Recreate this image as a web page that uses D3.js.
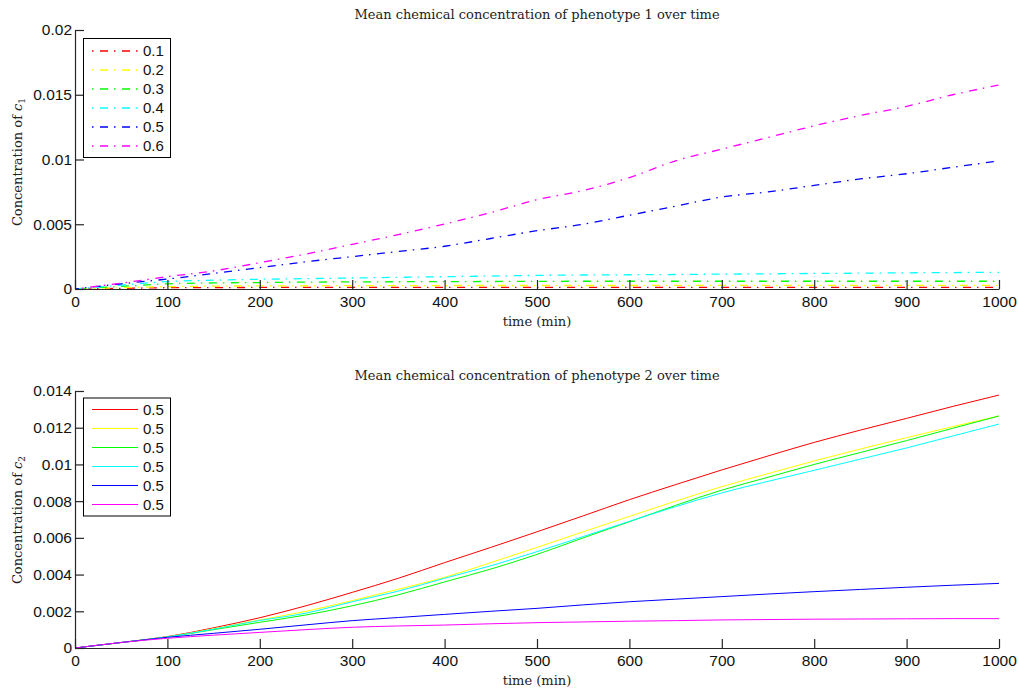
<!DOCTYPE html>
<html>
<head>
<meta charset="utf-8">
<script src="https://cdn.jsdelivr.net/npm/d3@7"></script>
<style>
  html, body { margin: 0; padding: 0; background: #fff; }
  svg { display: block; }
  .tick text { font-family: "Liberation Sans", Arial, sans-serif; font-size: 15.5px; fill: #111; }
  .title, .xlabel, .ylabel { font-family: "DejaVu Serif", "Liberation Serif", serif; fill: #222; }
</style>
</head>
<body>
<svg id="chart" width="1018" height="693"></svg>
<script>
// Sample times (min)
const time = [0, 50, 100, 150, 200, 250, 300, 350, 400, 450, 500, 550, 600, 650, 700, 750, 800, 850, 900, 950, 1000];

// Phenotype 1: mean concentration of c1, one series per parameter value
const p1Labels = ["0.1", "0.2", "0.3", "0.4", "0.5", "0.6"];
const p1_01 = [0, 0.00005, 0.0001, 0.00011, 0.00012, 0.00013, 0.00013, 0.00013, 0.00013, 0.00013, 0.00013, 0.00013, 0.00013, 0.00013, 0.00013, 0.00013, 0.00013, 0.00013, 0.00013, 0.00013, 0.00013];
const p1_02 = [0, 0.0001, 0.00018, 0.00022, 0.00024, 0.00025, 0.00026, 0.00026, 0.00027, 0.00027, 0.00027, 0.00027, 0.00027, 0.00028, 0.00028, 0.00028, 0.00028, 0.00028, 0.00028, 0.00028, 0.00028];
const p1_03 = [0, 0.0002, 0.0004, 0.00047, 0.0005, 0.00053, 0.00055, 0.00056, 0.00057, 0.00058, 0.00059, 0.0006, 0.0006, 0.0006, 0.0006, 0.0006, 0.0006, 0.0006, 0.0006, 0.0006, 0.0006];
const p1_04 = [0, 0.0003, 0.00057, 0.00068, 0.00075, 0.0008, 0.00085, 0.0009, 0.00095, 0.001, 0.00105, 0.00108, 0.0011, 0.00112, 0.00115, 0.00117, 0.0012, 0.00122, 0.00125, 0.00127, 0.00129];
const p1_05 = [0, 0.0004, 0.00077, 0.0012, 0.00165, 0.0021, 0.0025, 0.0029, 0.0033, 0.0039, 0.0045, 0.005, 0.0057, 0.0064, 0.0071, 0.0075, 0.008, 0.0085, 0.0089, 0.0094, 0.0099];
const p1_06 = [0, 0.00045, 0.00095, 0.0014, 0.00203, 0.0027, 0.00345, 0.0042, 0.00502, 0.0059, 0.0069, 0.0076, 0.0086, 0.0099, 0.0108, 0.0117, 0.0126, 0.0134, 0.0141, 0.015, 0.01575];

// Phenotype 2: mean concentration of c2
const p2Labels = ["0.5", "0.5", "0.5", "0.5", "0.5", "0.5"];
const p2_a = [0, 0.0003, 0.00062, 0.0011, 0.00165, 0.0023, 0.00303, 0.0038, 0.00465, 0.00548, 0.00633, 0.0072, 0.00808, 0.0089, 0.0097, 0.01046, 0.0112, 0.01187, 0.01251, 0.01316, 0.01378];
const p2_b = [0, 0.0003, 0.0006, 0.00105, 0.00153, 0.002, 0.00258, 0.0032, 0.00385, 0.00465, 0.00548, 0.00633, 0.00717, 0.008, 0.00879, 0.0095, 0.01019, 0.01084, 0.01146, 0.01206, 0.01264];
const p2_c = [0, 0.0003, 0.0006, 0.001, 0.0014, 0.0018, 0.0023, 0.0029, 0.0036, 0.0043, 0.0051, 0.006, 0.00688, 0.00777, 0.0086, 0.0093, 0.01, 0.01065, 0.0113, 0.01197, 0.01264];
const p2_d = [0, 0.0003, 0.0006, 0.00103, 0.0015, 0.0019, 0.00252, 0.0031, 0.0038, 0.00448, 0.00525, 0.00607, 0.0069, 0.0077, 0.00845, 0.00908, 0.00968, 0.01029, 0.0109, 0.01155, 0.0122];
const p2_e = [0, 0.0003, 0.00058, 0.0008, 0.00102, 0.00126, 0.00149, 0.00166, 0.00183, 0.002, 0.00216, 0.00235, 0.00252, 0.00266, 0.0028, 0.00294, 0.00307, 0.00319, 0.00331, 0.00342, 0.00352];
const p2_f = [0, 0.0003, 0.00053, 0.0007, 0.00085, 0.001, 0.00113, 0.0012, 0.00125, 0.00132, 0.00138, 0.00142, 0.00146, 0.00149, 0.00153, 0.00155, 0.00157, 0.00158, 0.00159, 0.0016, 0.0016];

// Axis ticks
const xTicks = [0, 100, 200, 300, 400, 500, 600, 700, 800, 900, 1000];
const y1Ticks = [0, 0.005, 0.01, 0.015, 0.02];
const y2Ticks = [0, 0.002, 0.004, 0.006, 0.008, 0.01, 0.012, 0.014];

const colors = ["#ff0000", "#ffff00", "#00ff00", "#00ffff", "#0000ff", "#ff00ff"];

const svg = d3.select("#chart");

function drawPanel(cfg) {
  const x = d3.scaleLinear().domain([0, 1000]).range([cfg.left, cfg.right]);
  const y = d3.scaleLinear().domain([0, cfg.yMax]).range([cfg.bottom, cfg.top]);
  const g = svg.append("g");

  const fmt = d => String(+d.toFixed(4));

  // data lines
  const line = d3.line().x((d, i) => x(time[i])).y(d => y(d)).curve(d3.curveMonotoneX);
  cfg.series.forEach((s, i) => {
    g.append("path")
      .datum(s)
      .attr("d", line)
      .attr("fill", "none")
      .attr("stroke", colors[i])
      .attr("stroke-width", cfg.dash ? 1.3 : 1)
      .attr("stroke-dasharray", cfg.dash || null)
      .attr("stroke-dashoffset", cfg.dash ? i * 3 : null);
  });

  // axes with inward ticks
  const xAxis = d3.axisBottom(x).tickValues(xTicks).tickFormat(fmt)
    .tickSizeInner(-9).tickSizeOuter(0).tickPadding(7);
  const yAxis = d3.axisLeft(y).tickValues(cfg.yTicks).tickFormat(fmt)
    .tickSizeInner(-9).tickSizeOuter(0).tickPadding(3);

  const gx = g.append("g").attr("transform", `translate(0,${cfg.bottom})`).call(xAxis);
  const gy = g.append("g").attr("transform", `translate(${cfg.left},0)`).call(yAxis);
  [gx, gy].forEach(a => {
    a.select(".domain").attr("stroke", "#262626").attr("stroke-width", 1.2);
    a.selectAll(".tick line").attr("stroke", "#262626").attr("stroke-width", 1.2);
    a.attr("font-family", null).attr("font-size", null);
  });

  // title and axis labels
  g.append("text").attr("class", "title")
    .attr("x", (cfg.left + cfg.right) / 2).attr("y", cfg.top - 11)
    .attr("text-anchor", "middle").attr("font-size", 13)
    .text(cfg.title);
  g.append("text").attr("class", "xlabel")
    .attr("x", (cfg.left + cfg.right) / 2).attr("y", cfg.bottom + 37)
    .attr("text-anchor", "middle").attr("font-size", 13)
    .text("time (min)");
  const yl = g.append("text").attr("class", "ylabel")
    .attr("transform", `translate(22,${cfg.yLabelY}) rotate(-90)`)
    .attr("text-anchor", "middle").attr("font-size", 13);
  yl.append("tspan").text("Concentration of ");
  yl.append("tspan").attr("font-style", "italic").text("c");
  yl.append("tspan").attr("font-size", 9).attr("dy", 3).text(cfg.sub);

  // legend
  const lg = g.append("g");
  lg.append("rect")
    .attr("x", 83.5).attr("y", cfg.legTop + 0.5)
    .attr("width", 87).attr("height", cfg.legH)
    .attr("fill", "#fff").attr("stroke", "#000").attr("stroke-width", 1);
  cfg.labels.forEach((lab, i) => {
    const yy = cfg.legFirst + i * 19;
    lg.append("line")
      .attr("x1", 92).attr("x2", 138).attr("y1", yy).attr("y2", yy)
      .attr("stroke", colors[i]).attr("stroke-width", cfg.dash ? 1.3 : 1)
      .attr("stroke-dasharray", cfg.dash || null);
    lg.append("text")
      .attr("x", 143).attr("y", yy).attr("dy", "0.36em")
      .attr("font-family", "'Liberation Sans', Arial, sans-serif")
      .attr("font-size", 15).attr("fill", "#111")
      .text(lab);
  });
}

drawPanel({
  left: 75, right: 999, top: 30, bottom: 289, yMax: 0.02, yTicks: y1Ticks,
  series: [p1_01, p1_02, p1_03, p1_04, p1_05, p1_06], labels: p1Labels,
  dash: "1.5,6.5,8,6",
  title: "Mean chemical concentration of phenotype 1 over time",
  sub: "1", yLabelY: 162, legTop: 38, legH: 119, legFirst: 51
});

drawPanel({
  left: 75, right: 999, top: 391, bottom: 648, yMax: 0.014, yTicks: y2Ticks,
  series: [p2_a, p2_b, p2_c, p2_d, p2_e, p2_f], labels: p2Labels,
  dash: null,
  title: "Mean chemical concentration of phenotype 2 over time",
  sub: "2", yLabelY: 520, legTop: 397.5, legH: 118, legFirst: 409.5
});
</script>
</body>
</html>
